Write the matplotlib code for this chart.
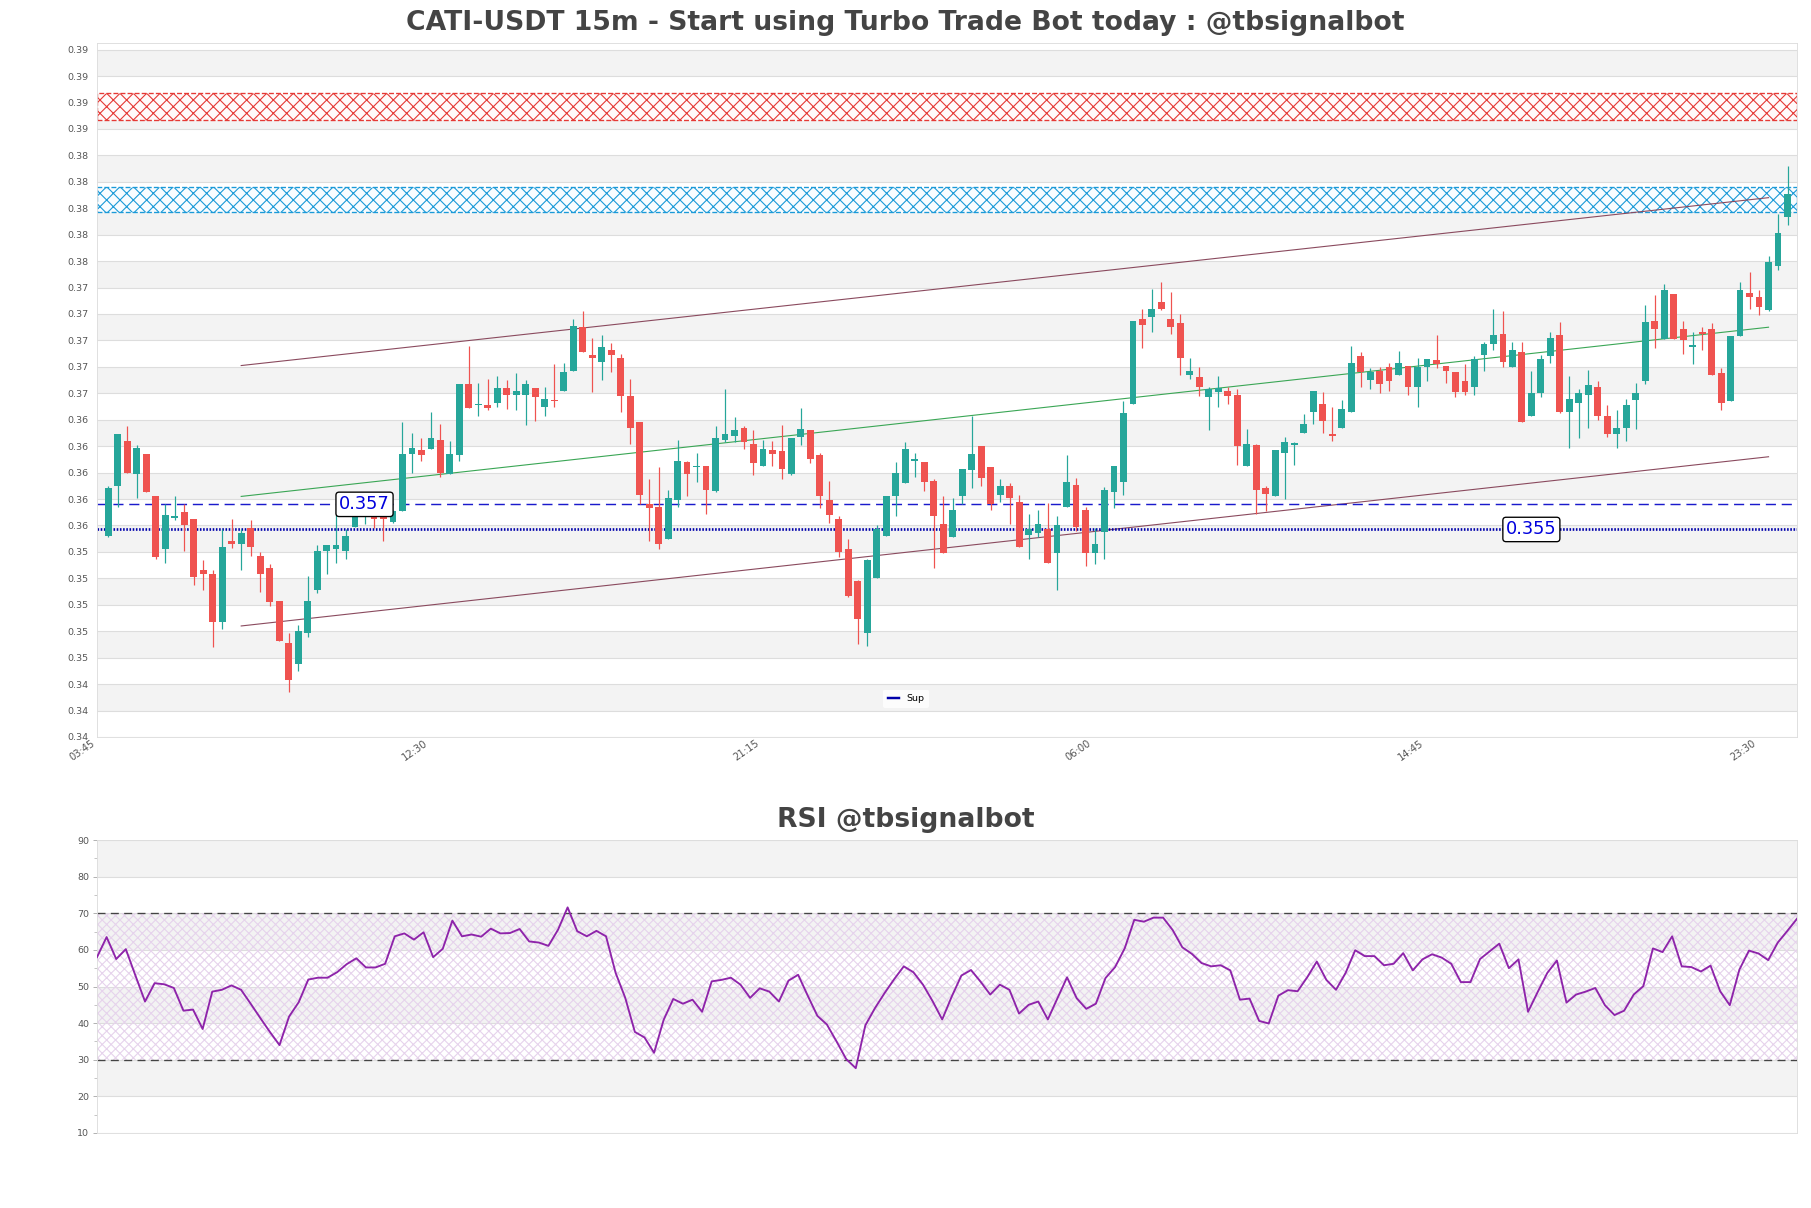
import numpy as np
import matplotlib
matplotlib.use("Agg")
import matplotlib.pyplot as plt
from matplotlib.lines import Line2D

# ---- data ----
opens = [0.3546, 0.3584, 0.3618, 0.3593, 0.3608, 0.3576, 0.3536, 0.3560, 0.3564, 0.3559,
         0.3520, 0.3517, 0.3481, 0.3542, 0.3540, 0.3552, 0.3531, 0.3522, 0.3497, 0.3465,
         0.3449, 0.3473, 0.3505, 0.3535, 0.3536, 0.3535, 0.3553, 0.3564, 0.3564, 0.3564,
         0.3557, 0.3565, 0.3608, 0.3611, 0.3612, 0.3619, 0.3593, 0.3607, 0.3661, 0.3645,
         0.3645, 0.3647, 0.3658, 0.3653, 0.3653, 0.3658, 0.3644, 0.3649, 0.3656, 0.3671,
         0.3704, 0.3683, 0.3678, 0.3687, 0.3681, 0.3652, 0.3632, 0.3570, 0.3568, 0.3544,
         0.3573, 0.3602, 0.3598, 0.3599, 0.3580, 0.3619, 0.3622, 0.3628, 0.3616, 0.3599,
         0.3611, 0.3610, 0.3593, 0.3621, 0.3626, 0.3607, 0.3573, 0.3559, 0.3536, 0.3512,
         0.3473, 0.3514, 0.3546, 0.3576, 0.3586, 0.3603, 0.3602, 0.3588, 0.3555, 0.3545,
         0.3576, 0.3596, 0.3614, 0.3598, 0.3577, 0.3584, 0.3572, 0.3547, 0.3548, 0.3551,
         0.3533, 0.3568, 0.3585, 0.3566, 0.3533, 0.3549, 0.3579, 0.3587, 0.3646, 0.3710,
         0.3712, 0.3723, 0.3710, 0.3707, 0.3668, 0.3666, 0.3651, 0.3655, 0.3656, 0.3653,
         0.3599, 0.3615, 0.3582, 0.3576, 0.3609, 0.3615, 0.3624, 0.3640, 0.3646, 0.3623,
         0.3628, 0.3640, 0.3682, 0.3664, 0.3671, 0.3674, 0.3668, 0.3675, 0.3659, 0.3674,
         0.3679, 0.3675, 0.3670, 0.3663, 0.3659, 0.3683, 0.3691, 0.3699, 0.3674, 0.3685,
         0.3637, 0.3654, 0.3682, 0.3698, 0.3640, 0.3647, 0.3653, 0.3659, 0.3637, 0.3623,
         0.3628, 0.3649, 0.3663, 0.3709, 0.3695, 0.3729, 0.3703, 0.3689, 0.3700, 0.3703,
         0.3669, 0.3648, 0.3697, 0.3730, 0.3727, 0.3717, 0.3750, 0.3787]
highs = [0.3584, 0.3623, 0.3629, 0.3615, 0.3608, 0.3576, 0.3570, 0.3576, 0.3570, 0.3559,
         0.3528, 0.3520, 0.3551, 0.3559, 0.3551, 0.3558, 0.3534, 0.3525, 0.3497, 0.3473,
         0.3479, 0.3516, 0.3539, 0.3539, 0.3562, 0.3551, 0.3564, 0.3568, 0.3568, 0.3566,
         0.3566, 0.3632, 0.3624, 0.3620, 0.3640, 0.3631, 0.3618, 0.3661, 0.3690, 0.3662,
         0.3665, 0.3667, 0.3664, 0.3669, 0.3664, 0.3658, 0.3659, 0.3676, 0.3677, 0.3710,
         0.3716, 0.3696, 0.3698, 0.3692, 0.3684, 0.3665, 0.3632, 0.3589, 0.3598, 0.3581,
         0.3619, 0.3603, 0.3609, 0.3599, 0.3629, 0.3657, 0.3636, 0.3629, 0.3626, 0.3619,
         0.3618, 0.3630, 0.3620, 0.3643, 0.3626, 0.3609, 0.3588, 0.3561, 0.3544, 0.3513,
         0.3529, 0.3554, 0.3576, 0.3602, 0.3617, 0.3609, 0.3602, 0.3589, 0.3576, 0.3575,
         0.3597, 0.3637, 0.3614, 0.3598, 0.3589, 0.3586, 0.3577, 0.3563, 0.3566, 0.3571,
         0.3561, 0.3607, 0.3590, 0.3568, 0.3552, 0.3583, 0.3599, 0.3648, 0.3709, 0.3718,
         0.3733, 0.3738, 0.3731, 0.3714, 0.3681, 0.3674, 0.3659, 0.3667, 0.3659, 0.3657,
         0.3627, 0.3616, 0.3584, 0.3611, 0.3621, 0.3617, 0.3638, 0.3656, 0.3655, 0.3644,
         0.3649, 0.3690, 0.3685, 0.3673, 0.3674, 0.3677, 0.3686, 0.3675, 0.3681, 0.3680,
         0.3698, 0.3675, 0.3670, 0.3676, 0.3682, 0.3693, 0.3718, 0.3716, 0.3693, 0.3693,
         0.3671, 0.3683, 0.3700, 0.3708, 0.3667, 0.3657, 0.3672, 0.3663, 0.3645, 0.3641,
         0.3650, 0.3662, 0.3721, 0.3728, 0.3737, 0.3729, 0.3709, 0.3700, 0.3704, 0.3707,
         0.3673, 0.3697, 0.3738, 0.3746, 0.3732, 0.3758, 0.3790, 0.3826]
lows = [0.3545, 0.3568, 0.3594, 0.3575, 0.3579, 0.3529, 0.3526, 0.3558, 0.3535, 0.3509,
        0.3505, 0.3462, 0.3476, 0.3537, 0.3520, 0.3531, 0.3504, 0.3493, 0.3467, 0.3428,
        0.3444, 0.3470, 0.3503, 0.3517, 0.3526, 0.3529, 0.3553, 0.3555, 0.3552, 0.3542,
        0.3556, 0.3565, 0.3594, 0.3603, 0.3612, 0.3591, 0.3593, 0.3603, 0.3643, 0.3637,
        0.3641, 0.3644, 0.3642, 0.3641, 0.3630, 0.3633, 0.3637, 0.3644, 0.3656, 0.3671,
        0.3685, 0.3655, 0.3664, 0.3670, 0.3640, 0.3616, 0.3570, 0.3542, 0.3536, 0.3544,
        0.3568, 0.3576, 0.3587, 0.3563, 0.3579, 0.3617, 0.3617, 0.3612, 0.3592, 0.3599,
        0.3599, 0.3589, 0.3592, 0.3615, 0.3601, 0.3567, 0.3556, 0.3530, 0.3500, 0.3464,
        0.3463, 0.3514, 0.3546, 0.3561, 0.3586, 0.3591, 0.3580, 0.3522, 0.3533, 0.3545,
        0.3570, 0.3582, 0.3584, 0.3566, 0.3572, 0.3555, 0.3538, 0.3529, 0.3545, 0.3526,
        0.3505, 0.3568, 0.3550, 0.3523, 0.3525, 0.3529, 0.3567, 0.3577, 0.3646, 0.3688,
        0.3700, 0.3717, 0.3699, 0.3668, 0.3665, 0.3652, 0.3626, 0.3644, 0.3646, 0.3600,
        0.3599, 0.3563, 0.3565, 0.3576, 0.3574, 0.3600, 0.3624, 0.3631, 0.3624, 0.3618,
        0.3628, 0.3640, 0.3659, 0.3657, 0.3654, 0.3656, 0.3668, 0.3653, 0.3644, 0.3663,
        0.3673, 0.3662, 0.3651, 0.3653, 0.3653, 0.3671, 0.3687, 0.3674, 0.3674, 0.3632,
        0.3637, 0.3651, 0.3677, 0.3639, 0.3613, 0.3620, 0.3628, 0.3634, 0.3621, 0.3613,
        0.3618, 0.3627, 0.3661, 0.3688, 0.3695, 0.3695, 0.3684, 0.3676, 0.3687, 0.3668,
        0.3641, 0.3648, 0.3697, 0.3718, 0.3713, 0.3716, 0.3747, 0.3781]
closes = [0.3582, 0.3623, 0.3594, 0.3613, 0.3579, 0.3530, 0.3562, 0.3561, 0.3554, 0.3515,
          0.3517, 0.3481, 0.3538, 0.3540, 0.3548, 0.3538, 0.3517, 0.3496, 0.3467, 0.3437,
          0.3474, 0.3497, 0.3535, 0.3539, 0.3539, 0.3546, 0.3561, 0.3565, 0.3559, 0.3559,
          0.3565, 0.3608, 0.3613, 0.3607, 0.3620, 0.3594, 0.3608, 0.3661, 0.3643, 0.3646,
          0.3643, 0.3658, 0.3653, 0.3656, 0.3661, 0.3651, 0.3650, 0.3648, 0.3670, 0.3705,
          0.3685, 0.3681, 0.3689, 0.3683, 0.3652, 0.3628, 0.3577, 0.3567, 0.3540, 0.3575,
          0.3603, 0.3593, 0.3599, 0.3581, 0.3620, 0.3623, 0.3626, 0.3617, 0.3601, 0.3612,
          0.3608, 0.3597, 0.3620, 0.3627, 0.3604, 0.3576, 0.3562, 0.3534, 0.3501, 0.3483,
          0.3528, 0.3551, 0.3576, 0.3594, 0.3612, 0.3604, 0.3587, 0.3561, 0.3533, 0.3566,
          0.3597, 0.3608, 0.3590, 0.3570, 0.3584, 0.3575, 0.3538, 0.3551, 0.3555, 0.3526,
          0.3554, 0.3587, 0.3553, 0.3533, 0.3540, 0.3581, 0.3599, 0.3639, 0.3709, 0.3706,
          0.3718, 0.3718, 0.3704, 0.3681, 0.3671, 0.3659, 0.3657, 0.3658, 0.3652, 0.3614,
          0.3616, 0.3581, 0.3578, 0.3611, 0.3617, 0.3616, 0.3631, 0.3656, 0.3633, 0.3622,
          0.3642, 0.3677, 0.3670, 0.3670, 0.3661, 0.3663, 0.3677, 0.3659, 0.3674, 0.3680,
          0.3676, 0.3671, 0.3655, 0.3655, 0.3680, 0.3691, 0.3698, 0.3678, 0.3687, 0.3632,
          0.3654, 0.3680, 0.3696, 0.3640, 0.3650, 0.3654, 0.3660, 0.3637, 0.3623, 0.3628,
          0.3645, 0.3654, 0.3708, 0.3703, 0.3732, 0.3695, 0.3694, 0.3690, 0.3699, 0.3668,
          0.3647, 0.3697, 0.3732, 0.3727, 0.3719, 0.3753, 0.3775, 0.3805]

rsi = [58.0, 63.5, 57.5, 60.2, 53.0, 45.9, 50.9, 50.6, 49.6, 43.4,
       43.7, 38.4, 48.6, 49.1, 50.3, 49.1, 45.3, 41.4, 37.6, 34.0,
       41.8, 45.7, 51.9, 52.4, 52.4, 53.9, 56.1, 57.7, 55.2, 55.2,
       56.2, 63.7, 64.5, 62.8, 64.8, 58.0, 60.3, 68.0, 63.7, 64.2,
       63.6, 65.8, 64.5, 64.6, 65.7, 62.3, 62.0, 61.1, 65.5, 71.6,
       65.1, 63.7, 65.2, 63.7, 53.7, 46.9, 37.6, 36.1, 31.9, 40.9,
       46.6, 45.3, 46.4, 43.1, 51.4, 51.8, 52.4, 50.5, 46.9, 49.5,
       48.6, 45.9, 51.6, 53.2, 47.5, 42.0, 39.6, 35.0, 30.2, 27.7,
       39.4, 44.1, 48.2, 52.0, 55.5, 53.9, 50.5, 46.0, 41.0, 47.3,
       53.0, 54.5, 51.3, 47.8, 50.5, 49.1, 42.6, 45.0, 45.9, 41.0,
       46.8, 52.5, 46.8, 43.9, 45.3, 52.3, 55.3, 60.4, 68.2, 67.7,
       68.8, 68.8, 65.4, 60.7, 58.9, 56.4, 55.5, 55.8, 54.4, 46.4,
       46.7, 40.6, 39.9, 47.5, 49.0, 48.7, 52.5, 56.8, 51.8, 49.1,
       53.7, 59.9, 58.3, 58.3, 55.8, 56.2, 59.1, 54.4, 57.4, 58.8,
       57.9, 56.2, 51.2, 51.2, 57.5, 59.6, 61.7, 55.0, 57.4, 43.1,
       48.5, 53.7, 57.1, 45.6, 47.8, 48.6, 49.6, 44.9, 42.2, 43.4,
       47.8, 50.1, 60.4, 59.4, 63.7, 55.5, 55.3, 54.1, 55.7, 48.7,
       44.9, 54.6, 59.8, 59.0, 57.2, 62.0, 65.2, 68.5]

tick_idx = [0, 35, 70, 105, 140, 175]
tick_labels = ['03:45', '12:30', '21:15', '06:00', '14:45', '23:30']

# zones, support levels and channel (start/end index, start/end price)
resist_zone = (0.3861, 0.3881)
support_zone = (0.3791, 0.3810)
sup_dashed = 0.3570
sup_dotted = 0.3551
label_idx = [27, 150]
chan_x = [14, 175]
chan_upper = [0.3675, 0.3802]
chan_mid = [0.3576, 0.3704]
chan_lower = [0.3478, 0.3606]

GREEN = '#26a69a'
RED = '#ef5350'

W, H, DPI = 1811, 1208, 80
fig = plt.figure(figsize=(W / DPI, H / DPI), dpi=DPI, facecolor='white')

ax = fig.add_axes([97 / W, 1 - 737 / H, 1700 / W, 694 / H])
ax2 = fig.add_axes([97 / W, 1 - 1133 / H, 1700 / W, 293 / H])

n = len(closes)
x = np.arange(n)
o = np.array(opens); c = np.array(closes)
hi = np.array(highs); lo = np.array(lows)

# ---- price panel ----
y0, y1 = 0.3394, 0.3919
yt = y0 + 0.002 * np.arange(27)
ax.set_ylim(y0, y1)
ax.set_xlim(-1, n)
for k in range(1, 26, 2):
    ax.axhspan(yt[k], yt[k + 1], color='#f3f3f3', zorder=0, lw=0)
ax.set_yticks(yt)
ax.set_yticklabels(['%.2f' % v for v in yt])
ax.grid(axis='y', color='#dddddd', lw=1, zorder=0.5)
ax.set_axisbelow(True)

ax.axhspan(*resist_zone, facecolor='#fffafa', edgecolor='#e53935', hatch='xx',
           linestyle='--', lw=1.2, zorder=1)
ax.axhspan(*support_zone, facecolor='#f8fcff', edgecolor='#1b9ad8', hatch='xx',
           linestyle='--', lw=1.2, zorder=1)

ax.plot(chan_x, chan_upper, color='#8a4a5e', lw=1, zorder=2)
ax.plot(chan_x, chan_lower, color='#8a4a5e', lw=1, zorder=2)
ax.plot(chan_x, chan_mid, color='#3aa655', lw=1, zorder=2)

ax.axhline(sup_dashed, color='#1a1acc', lw=1.3, ls=(0, (7, 4)), zorder=2)
ax.axhline(sup_dotted, color='#0000aa', lw=2.4, ls=(0, (0.6, 0.6)), zorder=2)

up = c >= o
cols = np.where(up, GREEN, RED)
body_lo = np.minimum(o, c)
body_h = np.maximum(np.abs(c - o), 0.00012)
ax.vlines(x, lo, hi, colors=cols, lw=1.1, zorder=3)
ax.bar(x, body_h, bottom=body_lo, width=0.72, color=cols, lw=0, zorder=4)

box = dict(boxstyle='round,pad=0.18', fc='white', ec='black', lw=1.2)
ax.text(label_idx[0], sup_dashed, '%.3f' % sup_dashed, ha='center', va='center',
        fontsize=16, color='#0000dd', bbox=box, zorder=6)
ax.text(label_idx[1], sup_dotted, '%.3f' % sup_dotted, ha='center', va='center',
        fontsize=16, color='#0000dd', bbox=box, zorder=6)

# labels sit a little left of the candle they name, as in the source chart
ax.set_xticks([t - 1.2 for t in tick_idx])
ax.set_xticklabels(tick_labels, rotation=35, ha='right')
ax.tick_params(axis='x', length=0, labelsize=9, labelcolor='#555555', pad=1)
ax.tick_params(axis='y', length=0, labelsize=8.5, labelcolor='#555555', pad=8)
for s in ax.spines.values():
    s.set_color('#dddddd')

leg = ax.legend(handles=[Line2D([], [], color='#0000aa', lw=2.2)], labels=['Sup'],
                loc='lower center', bbox_to_anchor=(0.476, 0.035), fontsize=8.5,
                frameon=True, handlelength=1.2, borderpad=0.5)
leg.get_frame().set_edgecolor('none')
leg.get_frame().set_facecolor('white')

# ---- RSI panel ----
xr = np.arange(len(rsi))
ax2.set_xlim(0, len(rsi) - 1)
ax2.set_ylim(10, 90)
for a, b in [(80, 90), (60, 70), (40, 50), (20, 30)]:
    ax2.axhspan(a, b, color='#f3f3f3', zorder=0, lw=0)
ax2.axhspan(30, 70, facecolor='none', edgecolor='#e6d3ec', hatch='xxx', lw=0, zorder=1)
ax2.grid(axis='y', color='#dddddd', lw=1, zorder=0.5)
ax2.set_axisbelow(True)
ax2.axhline(70, color='#444444', lw=1.2, ls=(0, (6, 4)), zorder=2)
ax2.axhline(30, color='#444444', lw=1.2, ls=(0, (6, 4)), zorder=2)
ax2.plot(xr, rsi, color='#8e24aa', lw=1.7, zorder=3)
ax2.set_yticks(np.arange(10, 91, 10))
ax2.set_yticks(np.arange(15, 90, 10), minor=True)
ax2.set_xticks([])
ax2.tick_params(axis='y', which='major', length=4, color='#aaaaaa', labelsize=8.5,
                labelcolor='#555555', pad=3)
ax2.tick_params(axis='y', which='minor', length=2.5, color='#aaaaaa')
for s in ax2.spines.values():
    s.set_color('#dddddd')

fig.text(0.5, 1 - 23 / H, 'CATI-USDT 15m - Start using Turbo Trade Bot today : @tbsignalbot',
         ha='center', va='center', fontsize=24, fontweight='bold', color='#444444')
fig.text(0.5, 1 - 820 / H, 'RSI @tbsignalbot', ha='center', va='center',
         fontsize=24, fontweight='bold', color='#444444')

fig.savefig('out.png', dpi=DPI, facecolor='white')
